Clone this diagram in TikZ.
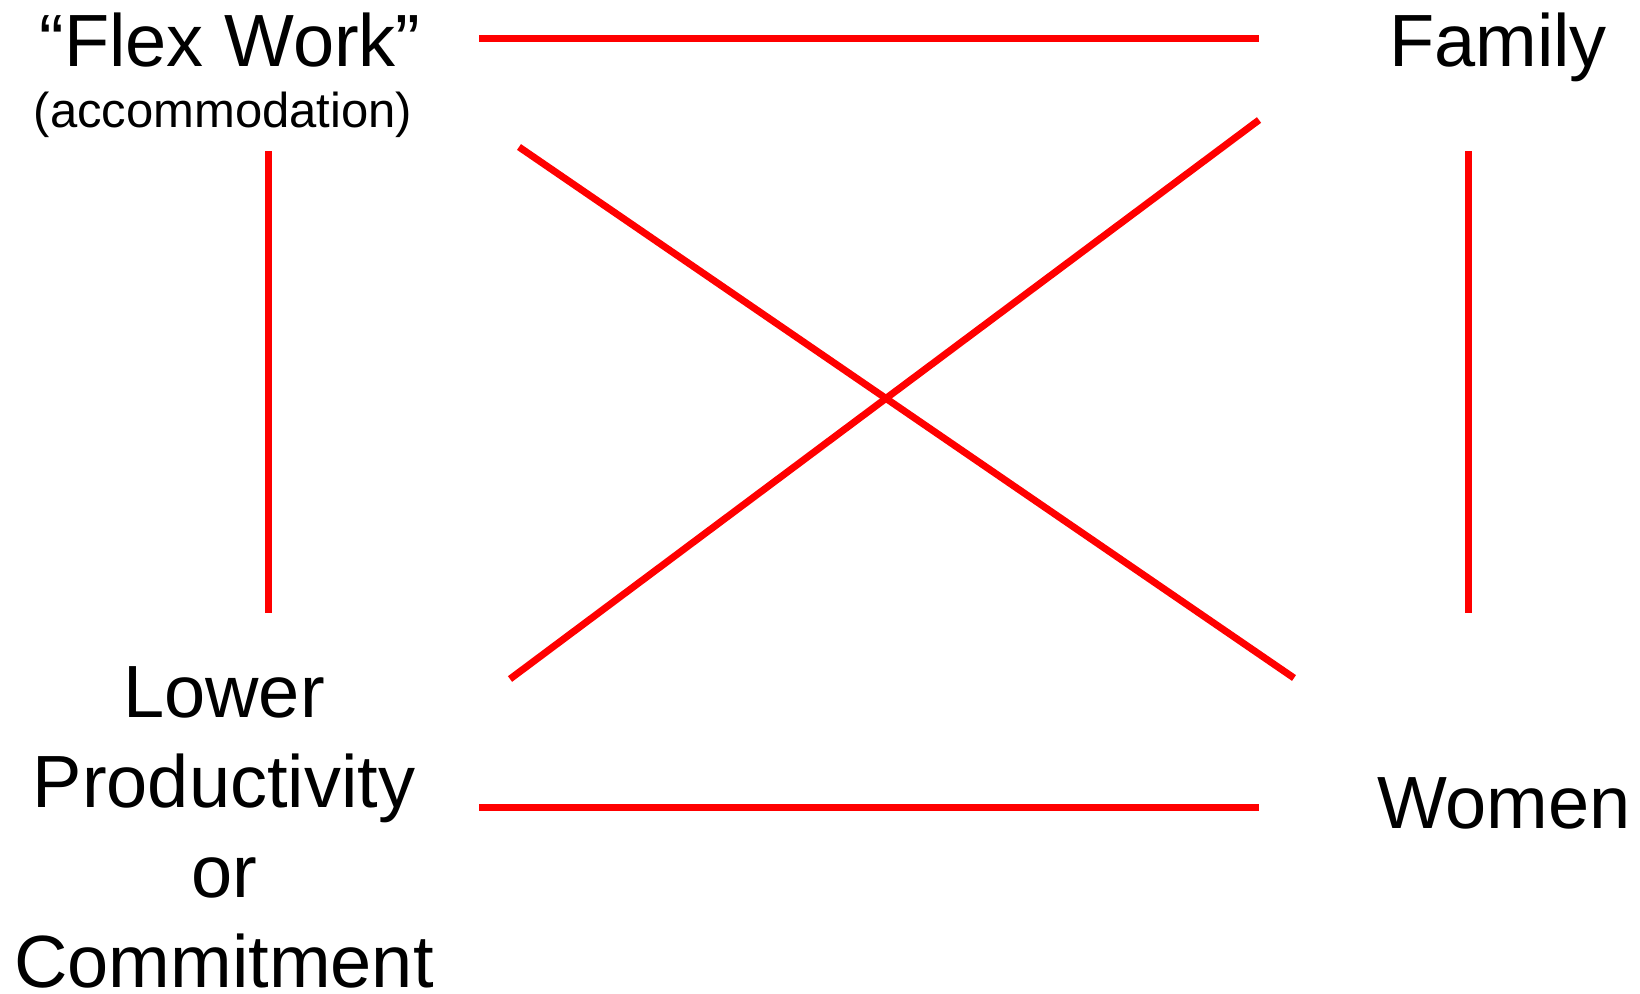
\documentclass[tikz,border=0pt]{standalone}
\usepackage{fontspec}
\setmainfont{Liberation Sans}
\begin{document}
\begin{tikzpicture}[x=1pt,y=-1pt,
  link/.style={draw=red,line width=7pt,line cap=butt},
  big/.style={font=\fontsize{74}{90}\selectfont,inner sep=0pt},
  small/.style={font=\fontsize{49}{58}\selectfont,inner sep=0pt}]
\useasboundingbox (0,0) rectangle (1640,993);
% labels
\node[big,anchor=base] (flex) at (230,66) {“Flex Work”};
\node[small,anchor=base] (accom) at (223,127) {(accommodation)};
\node[big,anchor=base] (family) at (1498,66) {Family};
\node[big,anchor=base] (women) at (1504,828) {Women};
\node[big,align=center,anchor=center] (lower) at (224,827) {Lower\\Productivity\\or\\Commitment};
% connector end points
\coordinate (t1) at (479,38);  \coordinate (t2) at (1259,38);
\coordinate (b1) at (479,807); \coordinate (b2) at (1259,807);
\coordinate (l1) at (268,151); \coordinate (l2) at (268,613);
\coordinate (r1) at (1468,151); \coordinate (r2) at (1468,613);
\coordinate (d1a) at (519,147); \coordinate (d1b) at (1294,678);
\coordinate (d2a) at (1259,120); \coordinate (d2b) at (510,679);
% connectors
\draw[link] (t1) -- (t2);
\draw[link] (b1) -- (b2);
\draw[link] (l1) -- (l2);
\draw[link] (r1) -- (r2);
\draw[link] (d1a) -- (d1b);
\draw[link] (d2a) -- (d2b);
\end{tikzpicture}
\end{document}
